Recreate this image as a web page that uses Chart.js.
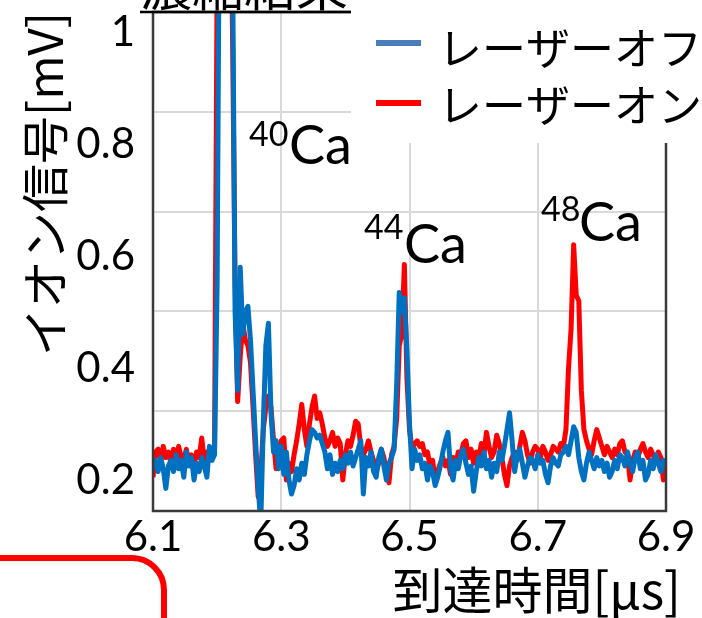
<!DOCTYPE html>
<html><head><meta charset="utf-8">
<script src="https://cdn.jsdelivr.net/npm/chart.js@4"></script>
<style>html,body{margin:0;padding:0;background:#fff;}canvas{display:block;}</style>
</head><body>
<canvas id="c" width="702" height="618"></canvas>
<script>
// sampling grid of the oscilloscope trace (µs)
const timeStart = 6.1;
const timeStep = 0.004;
const xTicks = [6.1, 6.3, 6.5, 6.7, 6.9];
const yTicks = [0.2, 0.4, 0.6, 0.8, 1];
const seriesNames = ['レーザーオフ', 'レーザーオン'];

// laser off (blue)
const laserOff = [
0.22,0.235,0.215,0.24,0.22,0.185,0.225,0.235,0.215,0.245,
0.22,0.235,0.205,0.25,0.225,0.24,0.2,0.23,0.215,0.24,
0.225,0.205,0.26,0.235,0.245,0.55,1.35,1.6,1.7,1.6,
1.4,1.15,0.5,0.36,0.58,0.46,0.5,0.51,0.45,0.36,
0.27,0.19,0.12,0.3,0.44,0.48,0.32,0.25,0.27,0.22,
0.26,0.21,0.25,0.2,0.175,0.19,0.22,0.2,0.23,0.21,
0.245,0.27,0.29,0.285,0.275,0.28,0.265,0.25,0.22,0.245,
0.21,0.23,0.215,0.235,0.22,0.245,0.23,0.25,0.225,0.24,
0.255,0.27,0.175,0.24,0.225,0.25,0.215,0.205,0.24,0.255,
0.225,0.2,0.23,0.24,0.255,0.37,0.535,0.5,0.525,0.43,
0.3,0.22,0.255,0.235,0.245,0.22,0.23,0.2,0.225,0.215,
0.19,0.205,0.225,0.25,0.27,0.285,0.22,0.2,0.235,0.22,
0.245,0.255,0.23,0.21,0.225,0.18,0.215,0.24,0.225,0.25,
0.22,0.235,0.205,0.23,0.215,0.25,0.235,0.26,0.29,0.32,
0.27,0.215,0.245,0.255,0.23,0.205,0.225,0.24,0.235,0.22,
0.245,0.23,0.235,0.21,0.195,0.225,0.24,0.23,0.225,0.245,
0.25,0.26,0.245,0.27,0.295,0.285,0.24,0.215,0.2,0.23,
0.25,0.235,0.22,0.24,0.225,0.235,0.215,0.23,0.205,0.215,
0.235,0.22,0.245,0.24,0.225,0.25,0.23,0.215,0.24,0.25,
0.22,0.235,0.2,0.21,0.235,0.22,0.245,0.23,0.215,0.235,
0.225];

// laser on (red)
const laserOn = [
0.205,0.25,0.255,0.235,0.26,0.24,0.25,0.23,0.255,0.245,
0.26,0.24,0.235,0.255,0.23,0.245,0.225,0.25,0.24,0.275,
0.235,0.25,0.24,0.255,0.26,1.1,1.6,1.75,1.7,1.55,
1.3,1.0,0.55,0.34,0.42,0.48,0.45,0.44,0.41,0.33,
0.245,0.17,0.21,0.29,0.33,0.35,0.33,0.27,0.22,0.25,
0.27,0.275,0.2,0.23,0.215,0.245,0.27,0.3,0.335,0.29,
0.26,0.3,0.33,0.35,0.31,0.32,0.3,0.275,0.26,0.27,
0.285,0.26,0.275,0.265,0.2,0.245,0.27,0.26,0.28,0.305,
0.3,0.26,0.245,0.255,0.27,0.25,0.235,0.215,0.23,0.255,
0.24,0.215,0.195,0.245,0.26,0.31,0.44,0.46,0.585,0.38,
0.29,0.255,0.265,0.27,0.26,0.265,0.245,0.25,0.225,0.235,
0.2,0.215,0.23,0.24,0.225,0.235,0.21,0.24,0.225,0.25,
0.245,0.265,0.27,0.24,0.255,0.23,0.25,0.24,0.265,0.245,
0.285,0.26,0.24,0.25,0.28,0.265,0.24,0.21,0.19,0.225,
0.24,0.25,0.235,0.26,0.285,0.27,0.245,0.23,0.25,0.26,
0.255,0.24,0.26,0.25,0.235,0.245,0.26,0.255,0.25,0.265,
0.26,0.29,0.4,0.47,0.62,0.53,0.52,0.36,0.29,0.27,
0.255,0.245,0.27,0.29,0.275,0.26,0.245,0.26,0.25,0.24,
0.255,0.245,0.265,0.27,0.25,0.245,0.2,0.235,0.25,0.24,
0.255,0.265,0.25,0.24,0.255,0.245,0.23,0.25,0.24,0.2,
0.235];

const times = laserOff.map((_, i) => +(timeStart + i * timeStep).toFixed(4));
const toPts = arr => arr.map((v, i) => ({x: times[i], y: v}));

const NUM_FONT = 'Lato, "Noto Sans CJK JP", sans-serif';
const JP_FONT = '"Noto Sans CJK JP", sans-serif';

const decor = {
  id: 'decor',
  afterDatasetsDraw(chart) {
    const {ctx, chartArea: a} = chart;
    ctx.save();
    ctx.strokeStyle = '#3a3a3a';
    ctx.lineWidth = 2.5;
    ctx.strokeRect(a.left, a.top, a.right - a.left, a.bottom - a.top);
    ctx.restore();
  },
  afterDraw(chart) {
    const {ctx} = chart;
    ctx.save();
    // legend box
    ctx.fillStyle = '#fff';
    ctx.fillRect(351, 0, 351, 143);
    ctx.lineWidth = 6;
    ctx.strokeStyle = '#4A7EBB';
    ctx.beginPath(); ctx.moveTo(376, 43); ctx.lineTo(421, 43); ctx.stroke();
    ctx.strokeStyle = '#FF0000';
    ctx.beginPath(); ctx.moveTo(376, 103); ctx.lineTo(421, 103); ctx.stroke();
    ctx.fillStyle = '#000';
    ctx.font = '44px ' + JP_FONT;
    ctx.textAlign = 'left'; ctx.textBaseline = 'middle';
    ctx.fillText(seriesNames[0], 438, 48);
    ctx.fillText(seriesNames[1], 438, 105);

    // title (cut off at top)
    ctx.font = '52px ' + JP_FONT;
    ctx.textBaseline = 'alphabetic';
    ctx.fillText('濃縮結果', 140, 6);
    ctx.strokeStyle = '#000'; ctx.lineWidth = 2.5;
    ctx.beginPath(); ctx.moveTo(140, 12); ctx.lineTo(351, 12); ctx.stroke();

    // isotope labels
    const iso = (mass, xs, ys, xc, yc) => {
      ctx.font = '34px ' + NUM_FONT; ctx.fillText(mass, xs, ys);
      ctx.font = '54px ' + NUM_FONT; ctx.fillText('Ca', xc, yc);
    };
    iso('40', 249, 146, 289, 164);
    iso('44', 364, 239, 404, 263);
    iso('48', 541, 221, 579, 241);

    // x axis title
    ctx.font = '50px ' + JP_FONT;
    ctx.textAlign = 'right'; ctx.textBaseline = 'middle';
    ctx.fillText('到達時間[μs]', 681, 590);

    // red frame fragment
    ctx.strokeStyle = '#FF0000'; ctx.lineWidth = 6;
    ctx.beginPath();
    ctx.moveTo(-20, 558); ctx.lineTo(132, 558);
    ctx.arcTo(164, 558, 164, 590, 32);
    ctx.lineTo(164, 640);
    ctx.stroke();
    ctx.restore();
  }
};

new Chart(document.getElementById('c'), {
  type: 'line',
  data: {
    datasets: [
      {label: seriesNames[0], data: toPts(laserOff), borderColor: '#0070C0', backgroundColor: '#0070C0',
       borderWidth: 5, pointRadius: 0, tension: 0, borderJoinStyle: 'round', clip: 0},
      {label: seriesNames[1], data: toPts(laserOn), borderColor: '#FF0000', backgroundColor: '#FF0000',
       borderWidth: 5, pointRadius: 0, tension: 0, borderJoinStyle: 'round', clip: 0}
    ]
  },
  options: {
    responsive: false, animation: false,
    layout: {padding: {left: 0, right: 36, top: 12, bottom: 0}},
    plugins: {legend: {display: false}, tooltip: {enabled: false}},
    scales: {
      x: {
        type: 'linear', min: 6.1, max: 6.9,
        afterBuildTicks: s => { s.ticks = xTicks.map(v => ({value: v})); },
        ticks: {font: {size: 42, family: NUM_FONT}, color: '#000', padding: 1, maxRotation: 0, autoSkip: false,
                callback: v => v.toFixed(1)},
        grid: {color: '#d9d9d9', lineWidth: 2, drawTicks: false},
        border: {display: false},
        afterFit: s => { s.height = 107; s.paddingLeft = 0; s.paddingRight = 0; }
      },
      y: {
        type: 'linear', position: 'left', min: 0.1446, max: 1.0357,
        afterBuildTicks: s => { s.ticks = yTicks.map(v => ({value: v})); },
        ticks: {font: {size: 42, family: NUM_FONT}, color: '#000', padding: 18,
                callback: v => String(+v.toFixed(1))},
        grid: {display: false, drawTicks: false},
        border: {display: false},
        title: {display: true, text: 'イオン信号[mV]', align: 'end', color: '#000',
                font: {size: 48, family: JP_FONT}, padding: {top: 16, bottom: 0}},
        afterFit: s => { s.width = 153; s.paddingTop = 0; s.paddingBottom = 0; }
      },
      g: {
        type: 'linear', position: 'left', min: 0, max: 5,
        ticks: {display: false, stepSize: 1},
        grid: {color: '#d9d9d9', lineWidth: 2, drawTicks: false},
        border: {display: false},
        afterFit: s => { s.width = 0; s.paddingTop = 0; s.paddingBottom = 0; }
      }
    }
  },
  plugins: [decor]
});
</script>
</body></html>
